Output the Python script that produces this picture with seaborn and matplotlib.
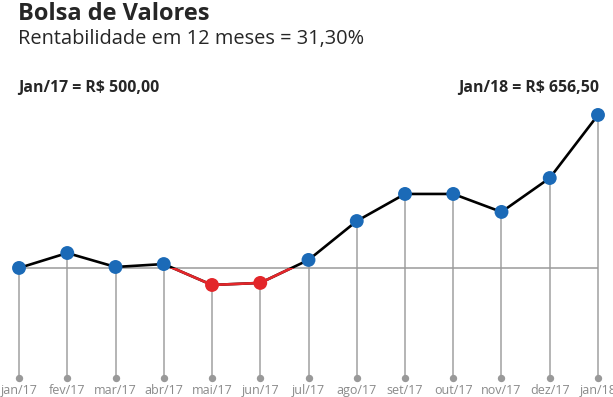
"""
Bolsa de Valores: evolução mensal de R$ 500,00 aplicados em jan/17.
"""

import matplotlib
matplotlib.use('Agg')
import matplotlib.pyplot as plt
import matplotlib.patches as mpatches
import seaborn as sns
import pandas as pd

# Data
months = ['jan/17', 'fev/17', 'mar/17', 'abr/17', 'mai/17', 'jun/17', 'jul/17',
          'ago/17', 'set/17', 'out/17', 'nov/17', 'dez/17', 'jan/18']
values = [500.0, 515.3, 501.0, 504.0, 482.6, 484.7, 508.2,
          548.0, 575.7, 575.7, 557.3, 592.0, 656.5]
base_value = 500.0

title = 'Bolsa de Valores'
subtitle = 'Rentabilidade em 12 meses = 31,30%'
label_start = 'Jan/17 = R$ 500,00'
label_end = 'Jan/18 = R$ 656,50'

BLUE = '#1b6ab7'
RED = '#e3262a'
GRAY_STEM = '#b4b4b4'
GRAY_DOT = '#999999'
GRAY_TEXT = '#8a8a8a'

sns.set_style('white')
plt.rcParams['font.family'] = ['Open Sans', 'DejaVu Sans']

df = pd.DataFrame({'idx': range(len(months)), 'month': months, 'value': values})
df['below'] = df['value'] < base_value

W, H = 613, 397
fig = plt.figure(figsize=(W / 100, H / 100), dpi=100)
ax = fig.add_axes([0, 0, 1, 1])
ax.set_xlim(-0.394, 12.311)
ax.set_ylim(368.0, 774.1)
ax.axis('off')

stem_bottom = 387.5
label_y = 375.0

# stems and baseline
ax.vlines(df['idx'], stem_bottom, df['value'], color=GRAY_STEM, lw=1.4, zorder=1)
ax.hlines(base_value, 0, len(months) - 1, color='#9a9a9a', lw=1.1, zorder=1)
ax.scatter(df['idx'], [stem_bottom] * len(df), s=28, color=GRAY_DOT, lw=0, zorder=2)

# main line: black above baseline, red below
sns.lineplot(data=df, x='idx', y='value', color='black', lw=1.9, ax=ax, zorder=3)
sns.lineplot(data=df, x='idx', y='value', color=RED, lw=1.9, ax=ax, zorder=4)
clip = mpatches.Rectangle((-1, 0), 20, base_value, transform=ax.transData)
ax.lines[-1].set_clip_path(clip)

sns.scatterplot(data=df, x='idx', y='value', hue='below',
                palette={False: BLUE, True: RED}, s=100, linewidth=0,
                legend=False, ax=ax, zorder=5)

for i, m in enumerate(months):
    ax.text(i, label_y, m, ha='center', va='center', fontsize=9, color=GRAY_TEXT)

fig.text(18 / W, 1 - 20 / H, title, fontsize=17, fontweight='bold', va='baseline')
fig.text(18 / W, 1 - 44 / H, subtitle, fontsize=14.4, va='baseline')
fig.text(18 / W, 1 - 92 / H, label_start, fontsize=11.4, fontweight='bold', va='baseline')
fig.text(599 / W, 1 - 92 / H, label_end, fontsize=11.4, fontweight='bold',
         va='baseline', ha='right')

fig.savefig('out.png', dpi=100)
